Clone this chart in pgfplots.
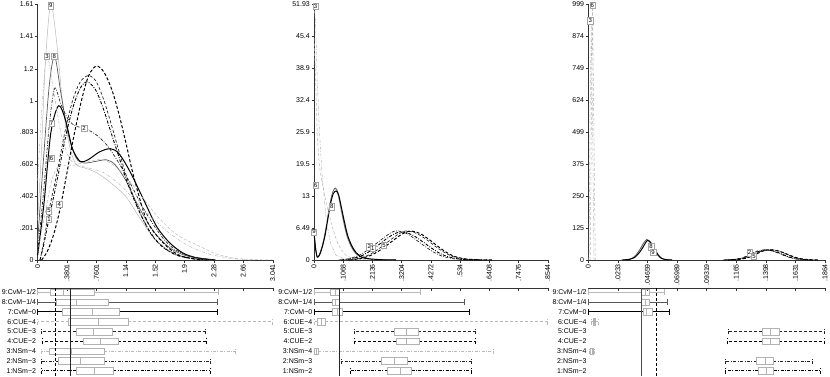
\documentclass[border=0pt]{standalone}
\usepackage{fontspec}
\setmainfont{Liberation Sans}
\usepackage{pgfplots}
\pgfplotsset{compat=1.18}
\usepgfplotslibrary{statistics}

\tikzset{
  lab/.style={draw=gray!70, fill=white, inner sep=1pt, line width=0.4pt, font=\fontsize{6}{7}\selectfont},
}
\pgfplotsset{
  s9/.style={gray!55, line width=0.5pt, solid},
  s8/.style={black!65, line width=0.7pt, solid},
  s7/.style={black, line width=1pt, solid},
  s6/.style={gray!55, line width=0.5pt, dash pattern=on 3pt off 2pt},
  s5/.style={black!85, line width=0.7pt, dash pattern=on 3pt off 2pt},
  s4/.style={black, line width=1pt, dash pattern=on 3pt off 2pt},
  s3/.style={gray!55, line width=0.5pt, dash pattern=on 3pt off 1.5pt on 0.8pt off 1.5pt},
  s2/.style={black!85, line width=0.7pt, dash pattern=on 3pt off 1.5pt on 0.8pt off 1.5pt},
  s1/.style={black, line width=0.9pt, dash pattern=on 3pt off 1.5pt on 0.8pt off 1.5pt},
  dens/.style={
    scale only axis, height=256pt, xmin=0, ymin=0,
    axis lines*=left, axis line style={black!80, line width=0.4pt},
    tick align=outside, major tick length=2.5pt,
    tick style={black!80, line width=0.4pt},
    tick label style={font=\fontsize{7}{8}\selectfont},
    xticklabel style={rotate=90, anchor=east, inner sep=1.5pt},
    yticklabel style={inner sep=1.5pt},
    clip=false,
  },
  boxax/.style={
    scale only axis, height=87.6pt, ymin=0.5, ymax=9.44, xmin=0,
    axis x line*=top, axis y line*=left,
    x axis line style={black!80, line width=0.4pt},
    y axis line style={draw=none},
    ytick={1,...,9},
    yticklabels={1:NSm−2,2:NSm−3,3:NSm−4,4:CUE−2,5:CUE−3,6:CUE−4,7:CvM−0,8:CvM−1/4,9:CvM−1/2},
    ytick style={draw=none},
    xticklabels={}, xtick align=inside, major tick length=2.5pt,
    xtick style={black!80, line width=0.4pt},
    tick label style={font=\fontsize{7}{8}\selectfont},
    yticklabel style={inner sep=1.5pt},
    boxplot/draw direction=x,
    boxplot/box extend=0.68,
    boxplot/whisker extend=0.6,
    boxplot/every box/.style={draw=gray!60, solid, line width=0.5pt},
    boxplot/every median/.style={draw=gray!60, solid, line width=0.5pt},
    clip=false,
  },
}

\begin{document}
\begin{tikzpicture}
\useasboundingbox (0,0) rectangle (830pt,-377pt);

% ---------------- panel 1: densities ----------------
\begin{axis}[dens, at={(37.7pt,-260pt)}, anchor=south west, width=235pt,
  xmax=3.041, ymax=1.61,
  xtick={0,0.3801,0.7601,1.14,1.52,1.9,2.28,2.66,3.041},
  xticklabels={0,.3801,.7601,1.14,1.52,1.9,2.28,2.66,3.041},
  ytick={0,0.201,0.402,0.602,0.803,1,1.2,1.41,1.61},
  yticklabels={0,.201,.402,.602,.803,1,1.2,1.41,1.61}]
\addplot[s9, smooth] coordinates {(0,0.25) (0.05,0.7) (0.1,1.25) (0.17,1.61) (0.25,1.35) (0.33,0.95) (0.42,0.7) (0.5,0.6) (0.6,0.58) (0.76,0.55) (0.96,0.48) (1.14,0.40) (1.3,0.28) (1.5,0.14) (1.7,0.06) (1.9,0.02) (2.1,0.005) (2.3,0)};
\addplot[s8, smooth] coordinates {(0,0.12) (0.07,0.6) (0.15,1.1) (0.22,1.28) (0.3,1.05) (0.4,0.78) (0.5,0.64) (0.6,0.61) (0.75,0.62) (0.89,0.63) (1.0,0.6) (1.14,0.5) (1.3,0.34) (1.5,0.18) (1.7,0.08) (1.9,0.03) (2.1,0.01) (2.3,0)};
\addplot[s7, smooth] coordinates {(0,0.03) (0.08,0.35) (0.17,0.8) (0.27,0.97) (0.36,0.88) (0.45,0.7) (0.55,0.62) (0.65,0.63) (0.8,0.68) (0.94,0.70) (1.05,0.67) (1.19,0.56) (1.37,0.38) (1.54,0.21) (1.71,0.107) (1.88,0.044) (2.05,0.015) (2.3,0)};
\addplot[s6, smooth] coordinates {(0,0.05) (0.1,0.3) (0.18,0.5) (0.28,0.6) (0.38,0.59) (0.5,0.6) (0.65,0.62) (0.85,0.63) (1.05,0.57) (1.3,0.43) (1.54,0.28) (1.8,0.16) (2.1,0.085) (2.3,0.04) (2.53,0.012) (2.8,0.003) (3.041,0)};
\addplot[s5, smooth] coordinates {(0.03,0) (0.08,0.12) (0.146,0.31) (0.25,0.55) (0.35,0.8) (0.45,1.0) (0.55,1.12) (0.66,1.16) (0.76,1.12) (0.86,1.0) (0.96,0.84) (1.06,0.67) (1.18,0.48) (1.32,0.3) (1.47,0.16) (1.62,0.08) (1.8,0.03) (2.0,0.01) (2.2,0)};
\addplot[s4, smooth] coordinates {(0.05,0) (0.12,0.05) (0.2,0.15) (0.28,0.3) (0.36,0.5) (0.46,0.76) (0.57,1.01) (0.66,1.16) (0.76,1.22) (0.86,1.18) (0.96,1.07) (1.05,0.92) (1.14,0.74) (1.24,0.53) (1.41,0.25) (1.62,0.11) (1.83,0.03) (2.1,0)};
\addplot[s3, smooth] coordinates {(0,0.5) (0.06,1.0) (0.12,1.28) (0.2,1.08) (0.3,0.8) (0.4,0.65) (0.5,0.6) (0.65,0.58) (0.85,0.55) (1.05,0.48) (1.25,0.38) (1.45,0.28) (1.7,0.17) (1.95,0.09) (2.2,0.04) (2.5,0.01) (2.8,0)};
\addplot[s2, smooth] coordinates {(0,0.05) (0.08,0.45) (0.15,0.85) (0.22,1.08) (0.3,0.98) (0.4,0.88) (0.5,0.84) (0.6,0.83) (0.75,0.79) (0.9,0.72) (1.05,0.61) (1.2,0.48) (1.35,0.34) (1.5,0.22) (1.65,0.12) (1.8,0.06) (2.0,0.02) (2.3,0)};
\addplot[s1, smooth] coordinates {(0.03,0) (0.08,0.1) (0.146,0.26) (0.25,0.5) (0.35,0.75) (0.45,0.95) (0.55,1.08) (0.64,1.12) (0.75,1.07) (0.85,0.95) (0.95,0.8) (1.05,0.65) (1.15,0.5) (1.3,0.32) (1.45,0.18) (1.6,0.09) (1.8,0.03) (2.0,0.01) (2.2,0)};
\node[lab] at (axis cs:0.17,1.60) {9};
\node[lab] at (axis cs:0.12,1.28) {3};
\node[lab] at (axis cs:0.215,1.28) {8};
\node[lab] at (axis cs:0.18,0.86) {7};
\node[lab] at (axis cs:0.60,0.83) {2};
\node[lab] at (axis cs:0.18,0.64) {6};
\node[lab] at (axis cs:0.146,0.31) {5};
\node[lab] at (axis cs:0.146,0.255) {1};
\node[lab] at (axis cs:0.28,0.35) {4};
\end{axis}

% ---------------- panel 2: densities ----------------
\begin{axis}[dens, at={(314pt,-260pt)}, anchor=south west, width=233.7pt,
  xmax=0.8544, ymax=51.93,
  xtick={0,0.1068,0.2136,0.3204,0.4272,0.534,0.6408,0.7476,0.8544},
  xticklabels={0,.1068,.2136,.3204,.4272,.534,.6408,.7476,.8544},
  ytick={0,6.49,13,19.5,25.9,32.4,38.9,45.4,51.93},
  yticklabels={0,6.49,13,19.5,25.9,32.4,38.9,45.4,51.93}]
\addplot[s9, smooth] coordinates {(0,6.0) (0.006,2.5) (0.012,0.6) (0.02,1.2) (0.03,3) (0.04,5.5) (0.05,8.8) (0.06,12) (0.07,14) (0.078,14.3) (0.087,13.2) (0.097,10.5) (0.108,7.5) (0.12,4.8) (0.135,2.7) (0.15,1.4) (0.17,0.6) (0.2,0.2) (0.25,0.05) (0.3,0)};
\addplot[s8, smooth] coordinates {(0,5.8) (0.006,2.4) (0.012,0.6) (0.02,1.1) (0.03,2.8) (0.04,5.2) (0.05,8.5) (0.06,11.8) (0.07,14) (0.079,14.6) (0.088,13.6) (0.098,10.8) (0.109,7.7) (0.121,4.9) (0.136,2.8) (0.152,1.4) (0.172,0.6) (0.2,0.2) (0.25,0.05) (0.3,0)};
\addplot[s7, smooth] coordinates {(0,5.5) (0.006,2.2) (0.012,0.6) (0.02,1.0) (0.03,2.6) (0.04,4.9) (0.05,8.1) (0.06,11.3) (0.07,13.4) (0.081,14.0) (0.09,13.2) (0.1,10.7) (0.111,7.8) (0.123,5.0) (0.138,2.9) (0.154,1.5) (0.174,0.6) (0.2,0.25) (0.25,0.05) (0.3,0)};
\addplot[s6] coordinates {(0,45) (0.005,38) (0.012,25) (0.02,19) (0.03,15.5) (0.04,12.8) (0.055,9.2) (0.07,6.1) (0.085,3.6) (0.1,2.0) (0.115,1.1) (0.13,0.6) (0.15,0.25) (0.17,0.1) (0.22,0)};
\addplot[s3] coordinates {(0,51.93) (0.006,48) (0.012,36) (0.02,26) (0.03,17) (0.045,8) (0.06,3.5) (0.08,1.0) (0.11,0.2) (0.15,0)};
\addplot[s5, smooth] coordinates {(0.12,0) (0.16,0.3) (0.2,1.0) (0.24,2.4) (0.28,4.1) (0.31,5.3) (0.335,5.9) (0.36,5.7) (0.385,5.1) (0.415,4.0) (0.445,2.7) (0.475,1.6) (0.505,0.75) (0.545,0.22) (0.6,0.04) (0.65,0)};
\addplot[s4, smooth] coordinates {(0.13,0) (0.17,0.3) (0.21,1.0) (0.25,2.3) (0.29,4.0) (0.32,5.2) (0.345,5.8) (0.365,5.8) (0.39,5.3) (0.42,4.2) (0.45,2.9) (0.48,1.7) (0.51,0.8) (0.55,0.25) (0.6,0.05) (0.65,0)};
\addplot[s2, smooth] coordinates {(0.09,0) (0.13,0.3) (0.17,1.1) (0.21,2.6) (0.25,4.3) (0.28,5.5) (0.30,5.9) (0.325,5.7) (0.35,5.0) (0.38,3.8) (0.41,2.6) (0.44,1.5) (0.47,0.75) (0.51,0.25) (0.56,0.05) (0.6,0)};
\addplot[s1, smooth] coordinates {(0.1,0) (0.14,0.3) (0.18,1.0) (0.22,2.4) (0.26,4.1) (0.29,5.2) (0.315,5.7) (0.34,5.5) (0.365,4.9) (0.395,3.8) (0.425,2.6) (0.455,1.5) (0.485,0.75) (0.525,0.25) (0.575,0.05) (0.62,0)};
\node[lab] at (axis cs:0.006,51.5) {3};
\node[lab] at (axis cs:0.006,15.2) {6};
\node[lab] at (axis cs:0.0,5.7) {9};
\node[lab] at (axis cs:0.065,10.8) {8};
\node[lab] at (axis cs:0.202,2.7) {2};
\node[lab] at (axis cs:0.215,2.4) {1};
\node[lab] at (axis cs:0.256,3.0) {5};
\end{axis}

% ---------------- panel 3: densities ----------------
\begin{axis}[dens, at={(588.3pt,-260pt)}, anchor=south west, width=236.7pt,
  xmax=0.1864, ymax=999,
  xtick={0,0.0233,0.04659,0.06989,0.09319,0.1165,0.1398,0.1631,0.1864},
  xticklabels={0,.0233,.04659,.06989,.09319,.1165,.1398,.1631,.1864},
  ytick={0,125,250,375,499,624,749,874,999},
  yticklabels={0,125,250,375,499,624,749,874,999}]
\addplot[s6] coordinates {(0.0015,0) (0.0025,600) (0.0033,999) (0.0042,600) (0.0055,0)};
\addplot[s3] coordinates {(0.0005,0) (0.0015,600) (0.0023,935) (0.0032,600) (0.0045,0)};
\addplot[s9, smooth] coordinates {(0.026,0) (0.032,3) (0.036,12) (0.04,35) (0.043,60) (0.0455,78) (0.048,70) (0.051,45) (0.054,20) (0.057,6) (0.06,1.5) (0.065,0)};
\addplot[s8, smooth] coordinates {(0.026,0) (0.032,3) (0.036,12) (0.04,36) (0.043,62) (0.046,80) (0.0485,71) (0.0515,45) (0.0545,20) (0.0575,6) (0.0605,1.5) (0.066,0)};
\addplot[s7, smooth] coordinates {(0.027,0) (0.033,3) (0.037,12) (0.041,34) (0.044,58) (0.0465,76) (0.049,69) (0.052,44) (0.055,20) (0.058,6) (0.061,1.5) (0.066,0)};
\addplot[s5, smooth] coordinates {(0.109,0) (0.117,2) (0.124,8) (0.13,20) (0.136,34) (0.1425,41) (0.149,36) (0.155,25) (0.161,12) (0.167,4.5) (0.174,1) (0.181,0)};
\addplot[s4, smooth] coordinates {(0.11,0) (0.118,2) (0.125,8) (0.131,20) (0.137,34) (0.1435,40) (0.15,35) (0.156,24) (0.162,12) (0.168,4.5) (0.175,1) (0.182,0)};
\addplot[s2, smooth] coordinates {(0.106,0) (0.114,2) (0.121,8) (0.127,21) (0.133,35) (0.139,40) (0.145,35) (0.151,24) (0.157,12) (0.163,4.5) (0.17,1) (0.177,0)};
\addplot[s1, smooth] coordinates {(0.107,0) (0.115,2) (0.122,8) (0.128,20) (0.134,33) (0.140,39) (0.146,35) (0.152,24) (0.158,12) (0.164,4.5) (0.171,1) (0.178,0)};
\node[lab] at (axis cs:0.0032,993) {6};
\node[lab] at (axis cs:0.0015,934) {3};
\node[lab] at (axis cs:0.0494,52) {8};
\node[lab] at (axis cs:0.0510,30) {9};
\node[lab] at (axis cs:0.127,28.5) {2};
\node[lab] at (axis cs:0.1305,15.6) {5};
\end{axis}

% ---------------- panel 1: box plots ----------------
\begin{axis}[boxax, at={(37.7pt,-288pt)}, anchor=north west, width=235pt,
  xmax=3.041, xtick={0,0.3801,0.7601,1.14,1.52,1.9,2.28,2.66,3.041}]
\addplot[s9, boxplot prepared={draw position=9, lower whisker=0, lower quartile=0.168, median=0.33, upper quartile=0.73, upper whisker=2.33}] coordinates {};
\addplot[s8, boxplot prepared={draw position=8, lower whisker=0, lower quartile=0.246, median=0.50, upper quartile=0.91, upper whisker=2.33}] coordinates {};
\addplot[s7, boxplot prepared={draw position=7, lower whisker=0, lower quartile=0.32, median=0.70, upper quartile=1.06, upper whisker=2.33}] coordinates {};
\addplot[s6, boxplot prepared={draw position=6, lower whisker=0, lower quartile=0.40, median=0.78, upper quartile=1.17, upper whisker=3.041}] coordinates {};
\addplot[s5, boxplot prepared={draw position=5, lower whisker=0.05, lower quartile=0.50, median=0.72, upper quartile=0.97, upper whisker=2.17}] coordinates {};
\addplot[s4, boxplot prepared={draw position=4, lower whisker=0.06, lower quartile=0.59, median=0.81, upper quartile=1.04, upper whisker=2.18}] coordinates {};
\addplot[s3, boxplot prepared={draw position=3, lower whisker=0.05, lower quartile=0.15, median=0.43, upper quartile=0.86, upper whisker=2.55}] coordinates {};
\addplot[s2, boxplot prepared={draw position=2, lower whisker=0.05, lower quartile=0.27, median=0.55, upper quartile=0.86, upper whisker=2.23}] coordinates {};
\addplot[s1, boxplot prepared={draw position=1, lower whisker=0.05, lower quartile=0.50, median=0.73, upper quartile=0.98, upper whisker=2.23}] coordinates {};
\addplot[black, line width=0.9pt, dash pattern=on 3pt off 2pt] coordinates {(0.233,0.5) (0.233,9.44)};
\addplot[black!85, line width=0.9pt] coordinates {(0.427,0.5) (0.427,9.44)};
\end{axis}

% ---------------- panel 2: box plots ----------------
\begin{axis}[boxax, at={(314pt,-288pt)}, anchor=north west, width=233.7pt,
  xmax=0.8544, xtick={0,0.1068,0.2136,0.3204,0.4272,0.534,0.6408,0.7476,0.8544}]
\addplot[s9, boxplot prepared={draw position=9, lower whisker=0, lower quartile=0.061, median=0.077, upper quartile=0.093, upper whisker=0.39}] coordinates {};
\addplot[s8, boxplot prepared={draw position=8, lower whisker=0, lower quartile=0.065, median=0.079, upper quartile=0.093, upper whisker=0.55}] coordinates {};
\addplot[s7, boxplot prepared={draw position=7, lower whisker=0, lower quartile=0.067, median=0.085, upper quartile=0.105, upper whisker=0.57}] coordinates {};
\addplot[s6, boxplot prepared={draw position=6, lower whisker=0, lower quartile=0.013, median=0.025, upper quartile=0.040, upper whisker=0.8544}] coordinates {};
\addplot[s5, boxplot prepared={draw position=5, lower whisker=0.147, lower quartile=0.294, median=0.339, upper quartile=0.381, upper whisker=0.59}] coordinates {};
\addplot[s4, boxplot prepared={draw position=4, lower whisker=0.147, lower quartile=0.299, median=0.339, upper quartile=0.385, upper whisker=0.59}] coordinates {};
\addplot[s3, boxplot prepared={draw position=3, lower whisker=0, lower quartile=0.001, median=0.008, upper quartile=0.016, upper whisker=0.656}] coordinates {};
\addplot[s2, boxplot prepared={draw position=2, lower whisker=0.099, lower quartile=0.247, median=0.294, upper quartile=0.342, upper whisker=0.577}] coordinates {};
\addplot[s1, boxplot prepared={draw position=1, lower whisker=0.132, lower quartile=0.269, median=0.314, upper quartile=0.357, upper whisker=0.577}] coordinates {};
\addplot[black, line width=0.9pt, dash pattern=on 3pt off 2pt] coordinates {(0.093,0.5) (0.093,9.44)};
\addplot[black!85, line width=0.6pt] coordinates {(0.093,0.5) (0.093,9.44)};
\end{axis}

% ---------------- panel 3: box plots ----------------
\begin{axis}[boxax, at={(588.3pt,-288pt)}, anchor=north west, width=236.7pt,
  xmax=0.1864, xtick={0,0.0233,0.04659,0.06989,0.09319,0.1165,0.1398,0.1631,0.1864}]
\addplot[s9, boxplot prepared={draw position=9, lower whisker=0, lower quartile=0.0415, median=0.0447, upper quartile=0.048, upper whisker=0.060}] coordinates {};
\addplot[s8, boxplot prepared={draw position=8, lower whisker=0, lower quartile=0.0415, median=0.0445, upper quartile=0.048, upper whisker=0.062}] coordinates {};
\addplot[s7, boxplot prepared={draw position=7, lower whisker=0, lower quartile=0.043, median=0.046, upper quartile=0.050, upper whisker=0.0636}] coordinates {};
\addplot[s6, boxplot prepared={draw position=6, lower whisker=0.0025, lower quartile=0.0035, median=0.0046, upper quartile=0.0052, upper whisker=0.0078}] coordinates {};
\addplot[s5, boxplot prepared={draw position=5, lower whisker=0.110, lower quartile=0.137, median=0.1436, upper quartile=0.150, upper whisker=0.186}] coordinates {};
\addplot[s4, boxplot prepared={draw position=4, lower whisker=0.110, lower quartile=0.137, median=0.1436, upper quartile=0.150, upper whisker=0.186}] coordinates {};
\addplot[s3, boxplot prepared={draw position=3, lower whisker=0.001, lower quartile=0.0018, median=0.0028, upper quartile=0.0038, upper whisker=0.0048}] coordinates {};
\addplot[s2, boxplot prepared={draw position=2, lower whisker=0.1077, lower quartile=0.1326, median=0.139, upper quartile=0.1457, upper whisker=0.1764}] coordinates {};
\addplot[s1, boxplot prepared={draw position=1, lower whisker=0.1077, lower quartile=0.1336, median=0.140, upper quartile=0.146, upper whisker=0.1825}] coordinates {};
\addplot[black!70, line width=0.9pt] coordinates {(0.0415,0.5) (0.0415,9.44)};
\addplot[black, line width=0.9pt, dash pattern=on 3pt off 2pt] coordinates {(0.0539,0.5) (0.0539,9.44)};
\end{axis}
\end{tikzpicture}
\end{document}
